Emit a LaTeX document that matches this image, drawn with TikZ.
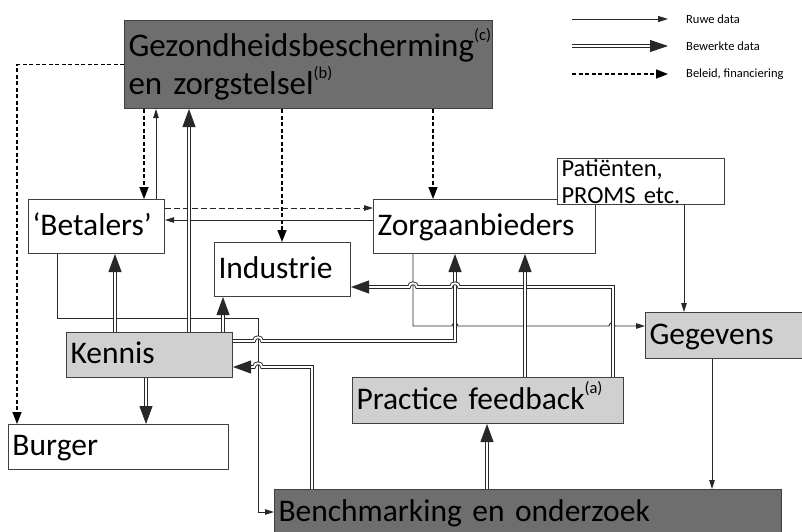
\documentclass[tikz,border=0pt]{standalone}
\usepackage{fontspec}
\setmainfont{Carlito}
\usetikzlibrary{arrows.meta}
\definecolor{darkbox}{RGB}{110,110,110}
\definecolor{lightbox}{RGB}{208,208,208}
\definecolor{edgec}{RGB}{64,64,64}
\definecolor{wire}{RGB}{40,40,40}
\newcommand\supmark[1]{\raisebox{15.5pt}{\fontsize{16.5}{16.5}\selectfont #1}}
\begin{document}
\begin{tikzpicture}[x=1pt,y=-1pt,
 box/.style={draw=edgec, line width=1pt, anchor=north west, inner xsep=4pt, inner ysep=0pt, align=left, font=\fontsize{31.5}{38}\selectfont},
 onebox/.style={box, text height=22pt, text depth=5pt},
 raw/.style={draw=wire, line width=0.9pt, -{Triangle[length=9pt,width=5.5pt]}},
 proc/.style={draw=wire, line width=0.9pt, double=white, double distance=1.8pt, -{Triangle[length=18pt,width=13pt]}},
 pol/.style={draw=black, line width=1.6pt, dash pattern=on 4pt off 2.5pt, -{Triangle[length=12pt,width=9pt]}},
 pay/.style={draw=wire, line width=0.8pt, dash pattern=on 6pt off 3pt, -{Triangle[length=9pt,width=5.5pt]}},
 leg/.style={font=\fontsize{12.5}{14}\selectfont, anchor=west, inner sep=0pt}]
\useasboundingbox (0,0) rectangle (802,531);
\fill[white] (0,0) rectangle (802,531);

% boxes
\node[box, fill=darkbox, minimum width=368pt, minimum height=88pt, text width=360pt, font=\fontsize{33}{38}\selectfont] (gez) at (124,20)
  {Gezondheidsbescherming\supmark{(c)}\\en zorgstelsel\supmark{(b)}};
\node[onebox, fill=white, minimum width=136pt, minimum height=54pt, text width=128pt] (bet) at (28,199) {‘Betalers’};
\node[onebox, fill=white, minimum width=222pt, minimum height=54pt, text width=214pt] (zorg) at (373,199) {Zorgaanbieders};
\node[box, fill=white, minimum width=167pt, minimum height=46pt, text width=159pt, font=\fontsize{24.5}{27}\selectfont] (pat) at (557,158) {Patiënten,\\PROMS etc.};
\node[onebox, fill=white, minimum width=136pt, minimum height=54pt, text width=128pt] (ind) at (214,242) {Industrie};
\node[onebox, fill=lightbox, minimum width=166pt, minimum height=45pt, text width=158pt] (ken) at (66,332) {Kennis};
\node[onebox, fill=lightbox, minimum width=170pt, minimum height=46pt, text width=162pt] (geg) at (645,312) {Gegevens};
\node[onebox, fill=lightbox, minimum width=271pt, minimum height=46pt, text width=263pt] (prac) at (352,377) {Practice feedback\supmark{(a)}};
\node[onebox, fill=white, minimum width=220pt, minimum height=45pt, text width=212pt] (burg) at (8,424) {Burger};
\node[onebox, fill=darkbox, minimum width=507pt, minimum height=47pt, text width=499pt] (bench) at (274,489) {Benchmarking en onderzoek};

% policy / financing
\draw[pol] (gez.west) -| (burg.north -| 17,0);
\draw[pol] (gez.south -| 144,0) -- (bet.north -| 144,0);
\draw[pol] (gez.south -| 282,0) -- (ind.north -| 282,0);
\draw[pol] (gez.south -| 433,0) -- (zorg.north -| 433,0);
\draw[pay] (bet.east |- 0,208) -- (zorg.west |- 0,208);

% raw data
\draw[raw] (bet.north -| 156,0) -- (gez.south -| 156,0);
\draw[raw] (zorg.west |- 0,220) -- (bet.east |- 0,220);
\draw[raw] (bet.south -| 57,0) |- (258,318) |- (bench.west |- 0,512);
\draw[raw] (zorg.south -| 413,0) -- (413,326) -- (452,326)
  .. controls +(0,-4) and +(0,-4) .. (458,326) -- (609,326)
  .. controls +(0,-4) and +(0,-4) .. (615,326) -- (geg.west |- 0,326);
\draw[raw] (pat.south -| 684,0) -- (geg.north -| 684,0);
\draw[raw] (geg.south -| 712,0) -- (bench.north -| 712,0);

% processed data
\draw[proc] (ken.north -| 189,0) -- (gez.south -| 189,0);
\draw[proc] (ken.north -| 115,0) -- (bet.south -| 115,0);
\draw[proc] (ken.north -| 223,0) -- (ind.south -| 223,0);
\draw[proc] (ken.south -| 146,0) -- (burg.north -| 146,0);
\draw[proc] (ken.east |- 0,341) -- (254,341)
  .. controls +(0,-5) and +(0,-5) .. (262,341) -- (455,341) -- (zorg.south -| 455,0);
\draw[proc] (prac.north -| 613,0) -- (613,287) -- (459,287)
  .. controls +(0,-5) and +(0,-5) .. (451,287) -- (417,287)
  .. controls +(0,-5) and +(0,-5) .. (409,287) -- (ind.east |- 0,287);
\draw[proc] (prac.north -| 525,0) -- (zorg.south -| 525,0);
\draw[proc] (bench.north -| 487,0) -- (prac.south -| 487,0);
\draw[proc] (bench.north -| 312,0) -- (312,367) -- (262,367)
  .. controls +(0,-5) and +(0,-5) .. (254,367) -- (ken.east |- 0,367);

% legend
\coordinate (r1) at (572,19); \coordinate (r2) at (668,19);
\coordinate (b1) at (572,46); \coordinate (b2) at (668,46);
\coordinate (p1) at (572,74); \coordinate (p2) at (668,74);
\draw[raw, -{Triangle[length=10pt,width=6pt]}] (r1) -- (r2);
\draw[proc, -{Triangle[length=18pt,width=12pt]}] (b1) -- (b2);
\draw[pol] (p1) -- (p2);
\node[leg] (lr) at (686,19) {Ruwe data};
\node[leg] (lb) at (686,46) {Bewerkte data};
\node[leg] (lp) at (686,74) {Beleid, financiering};
\end{tikzpicture}
\end{document}
